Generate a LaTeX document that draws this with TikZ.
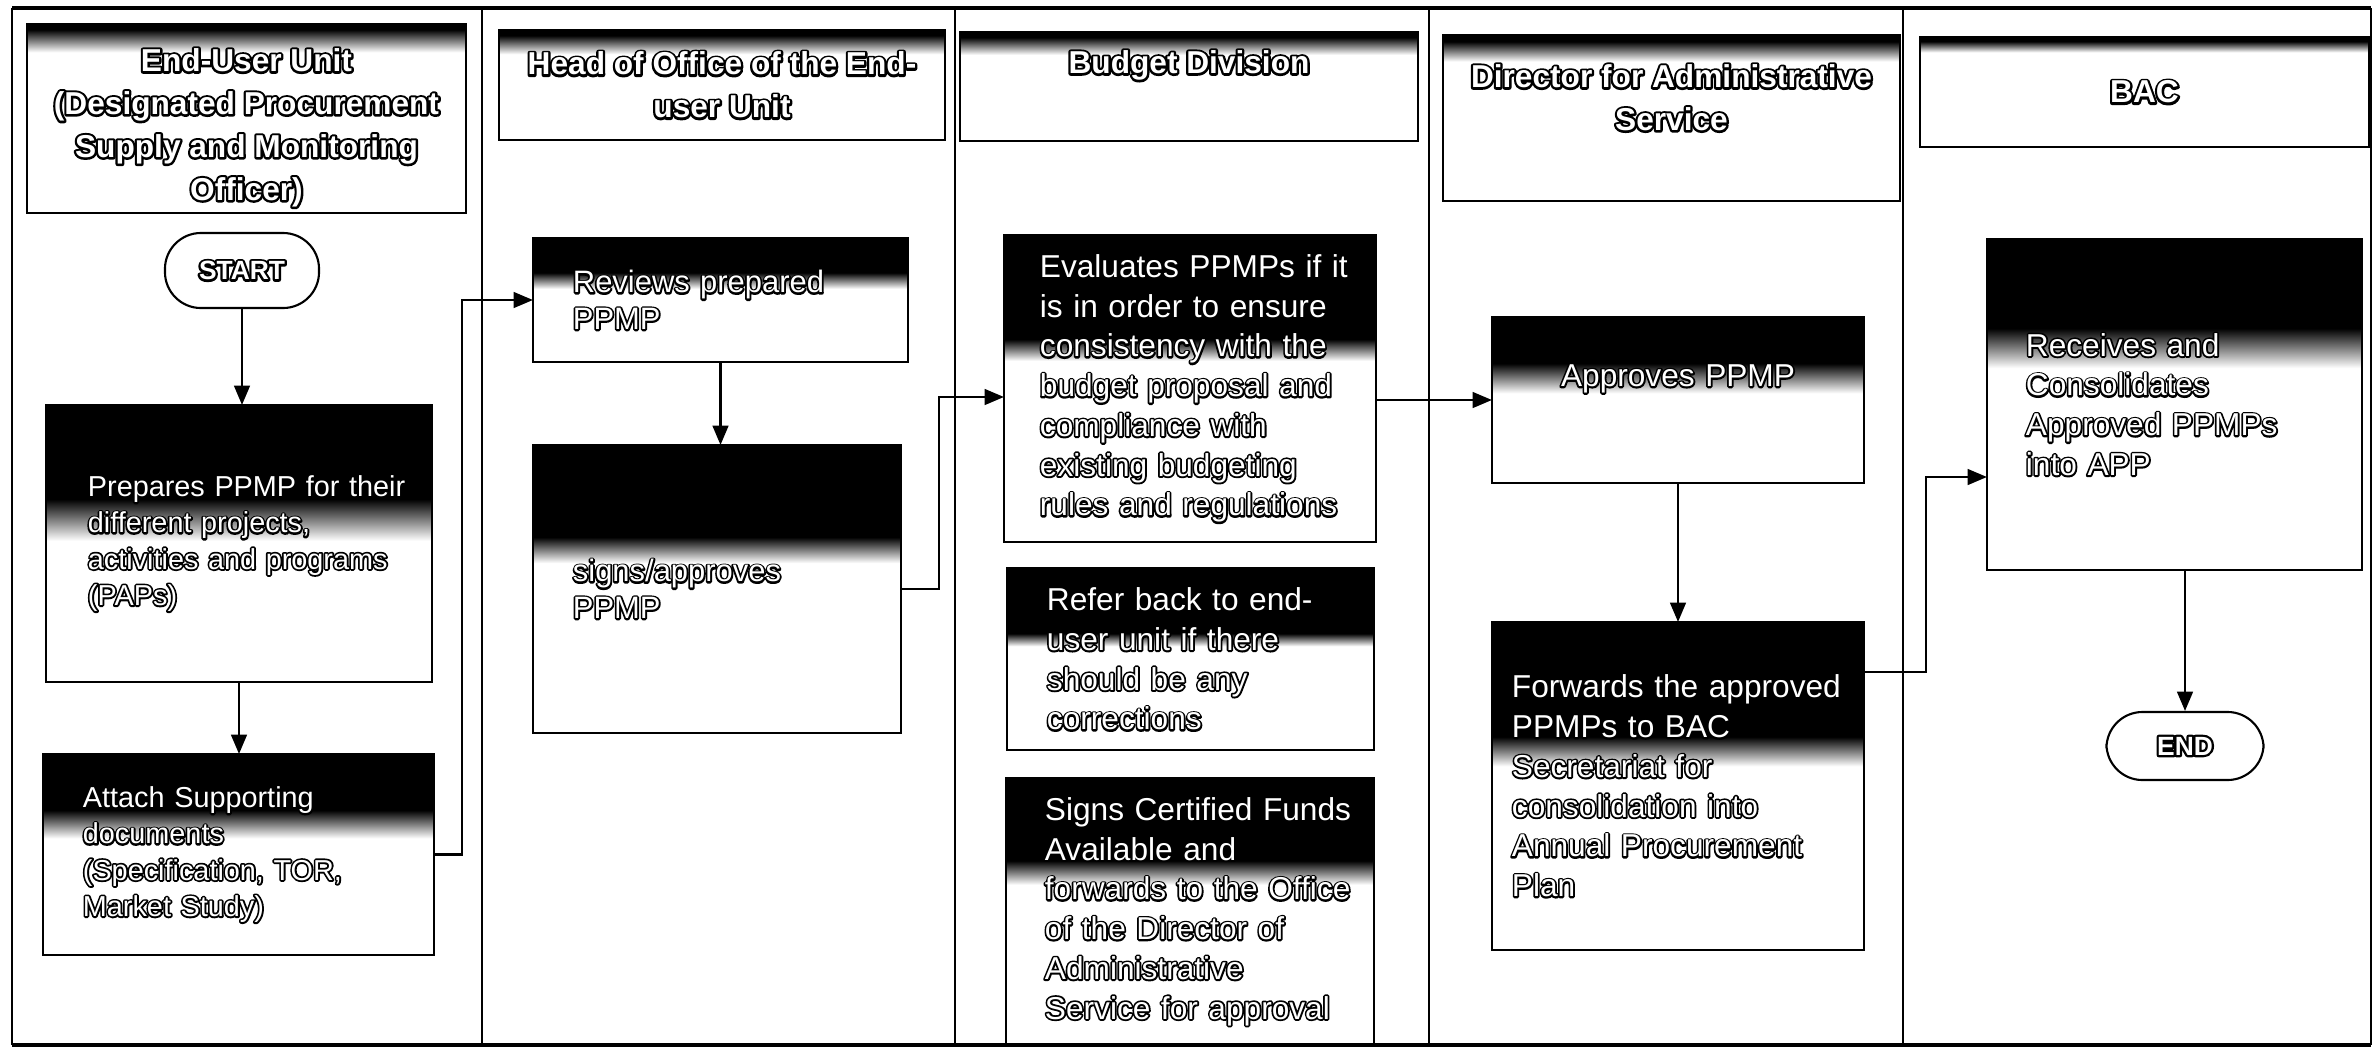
\documentclass[tikz,border=0pt]{standalone}
\usepackage{fontspec}
\setmainfont{Liberation Sans}
\usetikzlibrary{arrows.meta,calc}

% white text with a black outline: a stroked copy under a filled copy
\newcommand\outlw[2]{\leavevmode\begingroup\setbox0=\hbox{#2}%
 \rlap{\color{black}\special{pdf:literal direct 1 Tr #1 w 1 j 1 J 0 G}\copy0\special{pdf:literal direct 0 Tr}}%
 \hbox{\color{white}\copy0}\endgroup}
\newcommand\outl[1]{\outlw{1.0}{#1}}
\newcommand\outlb[1]{\outlw{1.3}{#1}}

\tikzset{
  dk/.store in=\dk, fd/.store in=\fd, dk=0.3, fd=0.1,
  gradbox/.style={rectangle, draw=black, line width=0.55pt, inner sep=0pt, outer sep=0pt,
    path picture={
      \fill[black] (path picture bounding box.north west) rectangle
        ($(path picture bounding box.north east)!\dk!(path picture bounding box.south east)$);
      \shade[top color=black,bottom color=white]
        ($(path picture bounding box.north west)!\dk!(path picture bounding box.south west)$) rectangle
        ($(path picture bounding box.north east)!\dk+\fd!(path picture bounding box.south east)$);
    }},
  headbox/.style={gradbox, align=center, font=\bfseries\fontsize{9}{12.2}\selectfont},
  stepbox/.style={gradbox, align=left},
  txtL/.style={font=\fontsize{8.2}{10.3}\selectfont},
  txtA/.style={font=\fontsize{8.8}{10.4}\selectfont},
  txtB/.style={font=\fontsize{9}{11.3}\selectfont},
  term/.style={rectangle, draw=black, line width=0.6pt, rounded corners=0.36cm, inner sep=0pt,
    font=\bfseries\fontsize{7.5}{9}\selectfont},
  lane/.style={line width=0.7pt},
  edge/.style={line width=1.4pt},
  arr/.style={draw=black, line width=0.6pt, -{Triangle[length=5.5pt,width=4.5pt]}},
}

\begin{document}
\begin{tikzpicture}[x=0.01cm, y=0.01cm]
\useasboundingbox (0,0) rectangle (2376,-1051);
\fill[white] (0,0) rectangle (2376,-1051);

% lanes
\draw[edge] (12,-8) -- (2371,-8);
\draw[edge] (12,-1045) -- (2371,-1045);
\draw[lane] (12,-8) -- (12,-1045);
\draw[lane] (2371,-8) -- (2371,-1045);
\draw[lane] (482,-8) -- (482,-1045);
\draw[lane] (955,-8) -- (955,-1045);
\draw[lane] (1429,-8) -- (1429,-1045);
\draw[lane] (1903,-8) -- (1903,-1045);

% headers
\node[headbox, dk=0.03, fd=0.12, minimum width=4.39cm, minimum height=1.89cm] (h1) at (246.5,-118.5)
  {\raisebox{-2.5pt}[\height][\depth]{\begin{tabular}{@{}c@{}}\outlb{End-User Unit}\\\outlb{(Designated Procurement}\\\outlb{Supply and Monitoring}\\\outlb{Officer)}\end{tabular}}};
\node[headbox, dk=0.05, fd=0.17, minimum width=4.46cm, minimum height=1.10cm] (h2) at (722,-85)
  {\outlb{Head of Office of the End-}\\\outlb{user Unit}};
\node[headbox, dk=0.05, fd=0.16, minimum width=4.58cm, minimum height=1.09cm] (h3) at (1189,-86.5)
  {\raisebox{6pt}[\height][\depth]{\outlb{Budget Division}}};
\node[headbox, dk=0.04, fd=0.12, minimum width=4.57cm, minimum height=1.66cm] (h4) at (1671.5,-118)
  {\raisebox{5pt}[\height][\depth]{\begin{tabular}{@{}c@{}}\outlb{Director for Administrative}\\\outlb{Service}\end{tabular}}};
\node[headbox, dk=0.04, fd=0.1, minimum width=4.49cm, minimum height=1.10cm] (h5) at (2144.5,-92)
  {\outlb{BAC}};

% lane 1
\node[term, minimum width=1.54cm, minimum height=0.75cm] (start) at (242,-270.5) {\outlb{START}};
\node[stepbox, txtL, dk=0.34, fd=0.15, minimum width=3.86cm, minimum height=2.77cm, text width=3.02cm] (prep) at (239,-543.5)
  {\outl{Prepares PPMP for their}\\\outl{different projects,}\\\outl{activities and programs}\\\outl{(PAPs)}};
\node[stepbox, txtL, dk=0.28, fd=0.14, minimum width=3.91cm, minimum height=2.01cm, text width=3.11cm] (attach) at (238.5,-854.5)
  {\outl{Attach Supporting}\\\outl{documents}\\\outl{(Specification, TOR,}\\\outl{Market Study)}};

% lane 2
\node[stepbox, txtA, dk=0.28, fd=0.13, minimum width=3.75cm, minimum height=1.24cm, text width=2.95cm] (review) at (720.5,-300)
  {\outl{Reviews prepared}\\\outl{PPMP}};
\node[stepbox, txtA, dk=0.32, fd=0.09, minimum width=3.68cm, minimum height=2.88cm, text width=2.88cm] (signs) at (717,-589)
  {\outl{signs/approves}\\\outl{PPMP}};

% lane 3
\node[stepbox, txtB, dk=0.34, fd=0.07, minimum width=3.72cm, minimum height=3.07cm, text width=3.0cm] (eval) at (1190,-388.5)
  {\outl{Evaluates PPMPs if it}\\\outl{is in order to ensure}\\\outl{consistency with the}\\\outl{budget proposal and}\\\outl{compliance with}\\\outl{existing budgeting}\\\outl{rules and regulations}};
\node[stepbox, txtB, dk=0.36, fd=0.07, minimum width=3.67cm, minimum height=1.82cm, text width=2.87cm] (refer) at (1190.5,-659)
  {\outl{Refer back to end-}\\\outl{user unit if there}\\\outl{should be any}\\\outl{corrections}};
\node[stepbox, txtB, dk=0.31, fd=0.09, minimum width=3.68cm, minimum height=2.67cm, text width=2.9cm] (cert) at (1190,-911.5)
  {\outl{Signs Certified Funds}\\\outl{Available and}\\\outl{forwards to the Office}\\\outl{of the Director of}\\\outl{Administrative}\\\outl{Service for approval}};

% lane 4
\node[stepbox, txtB, align=center, dk=0.28, fd=0.18, minimum width=3.72cm, minimum height=1.66cm, text width=3.2cm] (approve) at (1678,-400)
  {\raisebox{6pt}[\height][\depth]{\outl{Approves PPMP}}};
\node[stepbox, txtB, dk=0.35, fd=0.09, minimum width=3.72cm, minimum height=3.28cm, text width=3.32cm] (fwd) at (1678,-786)
  {\outl{Forwards the approved}\\\outl{PPMPs to BAC}\\\outl{Secretariat for}\\\outl{consolidation into}\\\outl{Annual Procurement}\\\outl{Plan}};

% lane 5
\node[stepbox, txtB, dk=0.27, fd=0.12, minimum width=3.75cm, minimum height=3.31cm, text width=2.97cm] (recv) at (2174.5,-404.5)
  {\outl{Receives and}\\\outl{Consolidates}\\\outl{Approved PPMPs}\\\outl{into APP}};
\node[term, minimum width=1.57cm, minimum height=0.68cm] (end) at (2185,-746) {\outlb{END}};

% connectors
\coordinate (c1) at (462,-300);
\coordinate (c2) at (939,-397);
\coordinate (c3) at (1926,-672);
\coordinate (c4) at (1926,-477);

\draw[arr] (start.south) -- (start.south |- prep.north);
\draw[arr] (prep.south) -- (prep.south |- attach.north);
\draw[arr] (attach.east) -| (c1) -- (review.west);
\draw[arr] (review.south) -- (review.south |- signs.north);
\draw[arr] (signs.east) -| (c2) -- (eval.west |- c2);
\draw[arr] (eval.east |- approve.west) -- (approve.west);
\draw[arr] (approve.south) -- (approve.south |- fwd.north);
\draw[arr] (fwd.east |- c3) -- (c3) -- (c4) -- (recv.west |- c4);
\draw[arr] (end.north |- recv.south) -- (end.north);
\end{tikzpicture}
\end{document}
